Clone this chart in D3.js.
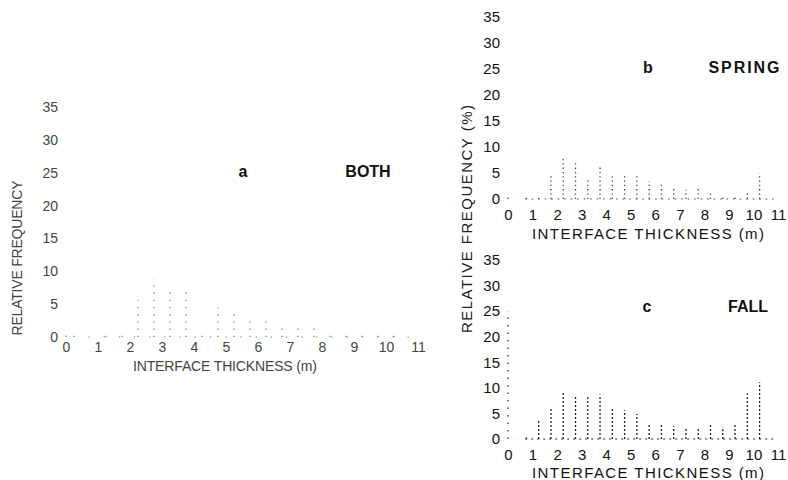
<!DOCTYPE html>
<html>
<head>
<meta charset="utf-8">
<script src="https://cdn.jsdelivr.net/npm/d3@7"></script>
<style>
  body { margin: 0; background: #fff; }
  svg text { font-family: "Liberation Sans", Arial, Helvetica, sans-serif; }
</style>
</head>
<body>
<div id="chart"></div>
<script>
// bin centres (m), half-metre bins
var binCenters = [0.25, 0.75, 1.25, 1.75, 2.25, 2.75, 3.25, 3.75, 4.25, 4.75, 5.25,
  5.75, 6.25, 6.75, 7.25, 7.75, 8.25, 8.75, 9.25, 9.75, 10.25];
// relative frequency (%)
var bothFreq = [0.2, 0, 0.2, 0.2, 5.6, 8.8, 7.1, 7.3, 0.3, 4.5, 3.8,
  2.9, 2.9, 1.7, 1.8, 2.1, 0.9, 0.9, 0.3, 0.3, 0.2];
var springFreq = [0, 0.3, 0.2, 4.4, 8.0, 7.1, 3.7, 6.3, 4.7, 4.5, 4.5,
  3.4, 3.2, 2.4, 1.8, 2.0, 1.4, 0.5, 0.5, 1.2, 5.0];
var fallFreq = [0, 0.3, 3.7, 6.2, 9.4, 8.5, 8.5, 8.7, 6.0, 5.6, 4.9,
  3.1, 2.9, 2.5, 2.1, 2.1, 2.9, 2.4, 3.1, 8.9, 11.1];
var xTicks = [0, 1, 2, 3, 4, 5, 6, 7, 8, 9, 10, 11];
var yTicks = [0, 5, 10, 15, 20, 25, 30, 35];

var svg = d3.select("#chart").append("svg")
  .attr("width", 788)
  .attr("height", 480);

/**
 * draw one histogram panel
 */
function drawPanel(p) {
  var x = d3.scaleLinear().domain([0, 11]).range([p.left, p.right]);
  var y = d3.scaleLinear().domain([0, 35]).range([p.bottom, p.top]);
  var g = svg.append("g");

  // y tick labels only (no axis line in the original)
  var yAxis = g.append("g")
    .attr("transform", `translate(${x(0)},0)`)
    .call(d3.axisLeft(y).tickValues(yTicks).tickSize(0).tickPadding(8));
  yAxis.select(".domain").remove();
  yAxis.attr("font-size", null).attr("font-family", null);
  yAxis.selectAll("text").attr("font-size", p.tickSize).attr("fill", p.textColor);

  var xAxis = g.append("g")
    .attr("transform", `translate(0,${y(0)})`)
    .call(d3.axisBottom(x).tickValues(xTicks).tickSize(0).tickPadding(p.xPad));
  xAxis.select(".domain").remove();
  xAxis.attr("font-size", null).attr("font-family", null);
  xAxis.selectAll("text").attr("font-size", p.tickSize).attr("fill", p.textColor);

  // dotted baseline
  g.append("line")
    .attr("x1", x(0.7)).attr("x2", x(10.85))
    .attr("y1", y(0)).attr("y2", y(0))
    .attr("stroke", p.barColor).attr("stroke-width", 1.2)
    .attr("stroke-dasharray", p.baseDash);
  // dot / dotted line on the y axis
  g.append("line")
    .attr("x1", x(0)).attr("x2", x(0))
    .attr("y1", y(0)).attr("y2", y(p.axisTop))
    .attr("stroke", p.barColor).attr("stroke-width", 1.2)
    .attr("stroke-dasharray", "1.5,6");

  // bars drawn as dotted vertical strokes
  g.selectAll(".bar")
    .data(p.values)
    .enter().append("line")
    .attr("class", "bar")
    .attr("x1", (d, i) => x(binCenters[i]))
    .attr("x2", (d, i) => x(binCenters[i]))
    .attr("y1", y(0))
    .attr("y2", d => y(d))
    .attr("stroke", p.barColor)
    .attr("stroke-width", 1.3)
    .attr("stroke-dasharray", p.barDash);

  // x title
  g.append("text")
    .attr("x", p.xTitleX).attr("y", p.xTitleY)
    .attr("text-anchor", "middle")
    .attr("font-size", p.titleSize)
    .attr("fill", p.textColor)
    .attr("textLength", p.xTitleLen)
    .text("INTERFACE THICKNESS (m)");

  // panel letter and season label
  g.append("text")
    .attr("x", p.letterX).attr("y", p.labelY)
    .attr("text-anchor", "middle")
    .attr("font-size", 16).attr("font-weight", "bold")
    .attr("fill", "#111")
    .text(p.letter);
  var name = g.append("text")
    .attr("x", p.nameX).attr("y", p.labelY)
    .attr("text-anchor", "middle")
    .attr("font-size", 16).attr("font-weight", "bold")
    .attr("fill", "#111")
    .text(p.name);
  if (p.nameLen) name.attr("textLength", p.nameLen);
}

drawPanel({
  left: 66, right: 418, top: 107, bottom: 337,
  values: bothFreq, letter: "a", name: "BOTH",
  letterX: 243, nameX: 368, nameLen: null, labelY: 177,
  tickSize: 14, titleSize: 14, xPad: 5,
  xTitleX: 225, xTitleY: 371, xTitleLen: 184,
  textColor: "#444", barColor: "#777",
  barDash: "1.2,6", baseDash: "1.2,14", axisTop: 0.3
});
drawPanel({
  left: 508, right: 778, top: 17, bottom: 199,
  values: springFreq, letter: "b", name: "SPRING",
  letterX: 648, nameX: 744, nameLen: 71, labelY: 73,
  tickSize: 15, titleSize: 15, xPad: 10,
  xTitleX: 648, xTitleY: 239, xTitleLen: 232,
  textColor: "#111", barColor: "#444",
  barDash: "1.3,3", baseDash: "1.5,5", axisTop: 0.4
});
drawPanel({
  left: 508, right: 778, top: 260, bottom: 439,
  values: fallFreq, letter: "c", name: "FALL",
  letterX: 647, nameX: 748, nameLen: null, labelY: 312,
  tickSize: 15, titleSize: 15, xPad: 10,
  xTitleX: 648, xTitleY: 478, xTitleLen: 232,
  textColor: "#111", barColor: "#222",
  barDash: "2,2", baseDash: "2,4", axisTop: 25
});

// rotated y titles
svg.append("text")
  .attr("transform", "translate(22,258) rotate(-90)")
  .attr("text-anchor", "middle")
  .attr("font-size", 14)
  .attr("fill", "#444")
  .attr("textLength", 155)
  .text("RELATIVE FREQUENCY");
svg.append("text")
  .attr("transform", "translate(472,219) rotate(-90)")
  .attr("text-anchor", "middle")
  .attr("font-size", 15)
  .attr("fill", "#222")
  .attr("textLength", 228)
  .text("RELATIVE FREQUENCY (%)");
</script>
</body>
</html>
